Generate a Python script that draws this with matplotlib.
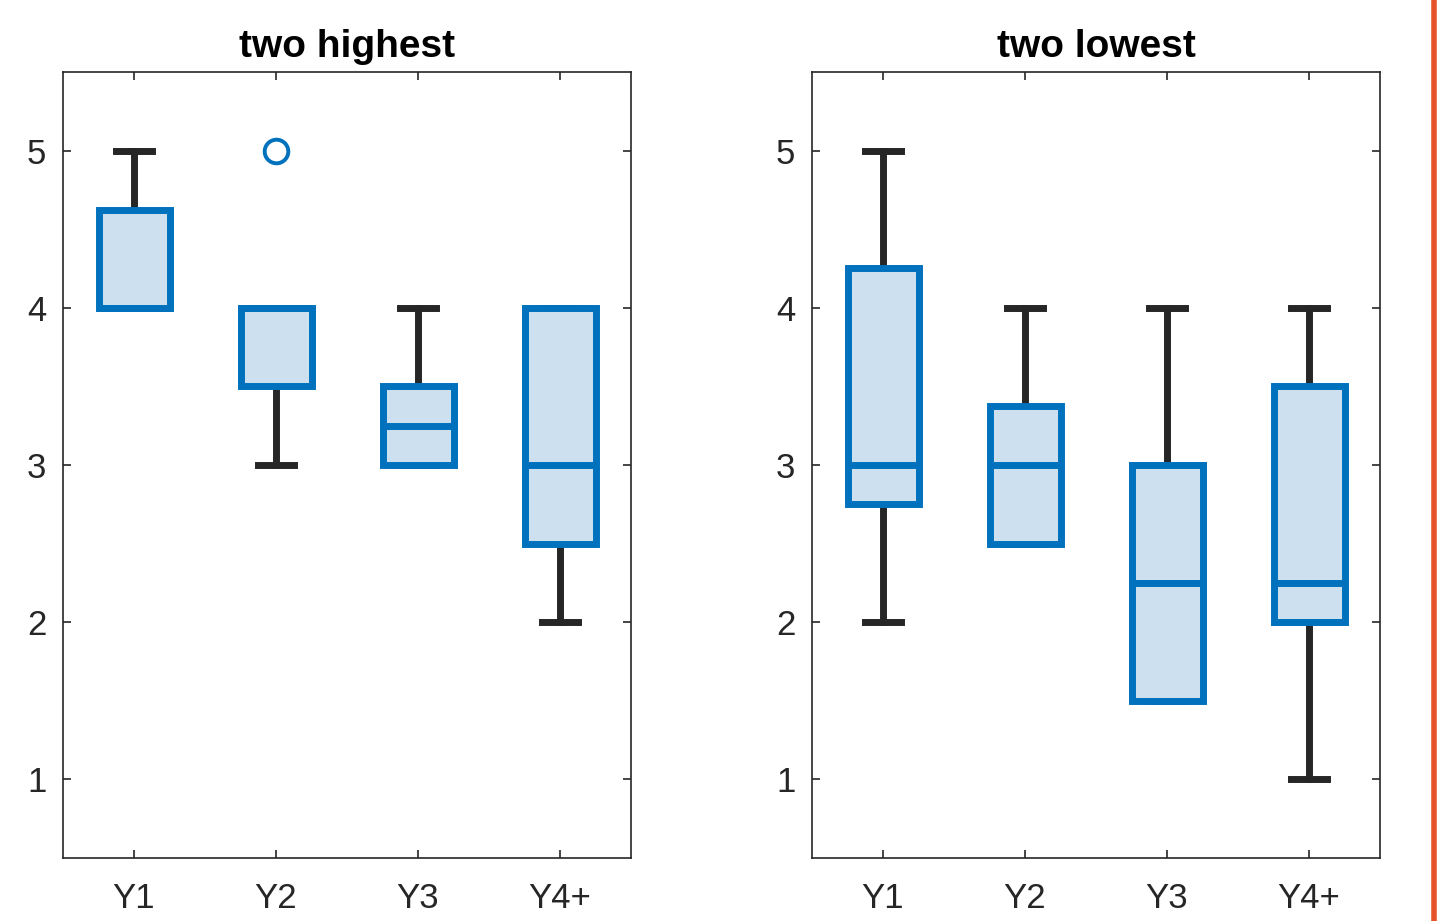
import matplotlib
matplotlib.use("Agg")
import matplotlib.pyplot as plt
from matplotlib.lines import Line2D

categories = ["Y1", "Y2", "Y3", "Y4+"]

# five-number summaries per group: (whisker low, q1, median, q3, whisker high)
highest_stats = [
    (4.0, 4.0, 4.0, 4.625, 5.0),
    (3.0, 3.5, 4.0, 4.0, 4.0),
    (3.0, 3.0, 3.25, 3.5, 4.0),
    (2.0, 2.5, 3.0, 4.0, 4.0),
]
highest_fliers = [[], [5.0], [], []]

lowest_stats = [
    (2.0, 2.75, 3.0, 4.25, 5.0),
    (2.5, 2.5, 3.0, 3.375, 4.0),
    (1.5, 1.5, 2.25, 3.0, 4.0),
    (1.0, 2.0, 2.25, 3.5, 4.0),
]
lowest_fliers = [[], [], [], []]

titles = ["two highest", "two lowest"]

BLUE = "#0072BD"
FILL = "#CCE0F0"
DARK = "#262626"

plt.rcParams["font.family"] = ["Liberation Sans", "DejaVu Sans"]

fig = plt.figure(figsize=(14.37, 9.21), dpi=100)
axes = [
    fig.add_axes([63 / 1437, 63 / 921, 568 / 1437, 786 / 921]),
    fig.add_axes([812 / 1437, 63 / 921, 568 / 1437, 786 / 921]),
]


def make_stats(stats, fliers):
    out = []
    for (lo, q1, med, q3, hi), fl in zip(stats, fliers):
        out.append(dict(whislo=lo, q1=q1, med=med, q3=q3, whishi=hi, fliers=fl))
    return out


for ax, stats, fliers, title in zip(
    axes, [highest_stats, lowest_stats], [highest_fliers, lowest_fliers], titles
):
    ax.bxp(
        make_stats(stats, fliers),
        positions=range(1, len(categories) + 1),
        widths=0.5,
        patch_artist=True,
        showfliers=True,
        boxprops=dict(facecolor=FILL, edgecolor=BLUE, linewidth=5, zorder=3),
        medianprops=dict(color=BLUE, linewidth=5, zorder=4, solid_capstyle="butt"),
        whiskerprops=dict(color=DARK, linewidth=5, zorder=2),
        capprops=dict(color=DARK, linewidth=5, zorder=2),
        capwidths=0.25,
        flierprops=dict(marker="o", markersize=17, markerfacecolor="none",
                        markeredgecolor=BLUE, markeredgewidth=2.8),
    )
    ax.set_xlim(0.5, 4.5)
    ax.set_ylim(0.5, 5.5)
    ax.set_xticks(range(1, len(categories) + 1))
    ax.set_xticklabels(categories)
    ax.set_yticks([1, 2, 3, 4, 5])
    ax.tick_params(direction="in", length=6, width=1.2, color=DARK,
                   labelsize=25, labelcolor=DARK,
                   top=True, right=True)
    ax.tick_params(axis="y", pad=12)
    ax.tick_params(axis="x", pad=17)
    for s in ax.spines.values():
        s.set_linewidth(1.2)
        s.set_color(DARK)
    ax.set_title(title, fontsize=28, fontweight="bold", pad=11, color="black")

# thin accent rule along the right edge
fig.add_artist(Line2D([1433.5 / 1437, 1433.5 / 1437], [0, 1],
                      transform=fig.transFigure, color="#E8522A", linewidth=4))

fig.savefig("out.png", dpi=100)
